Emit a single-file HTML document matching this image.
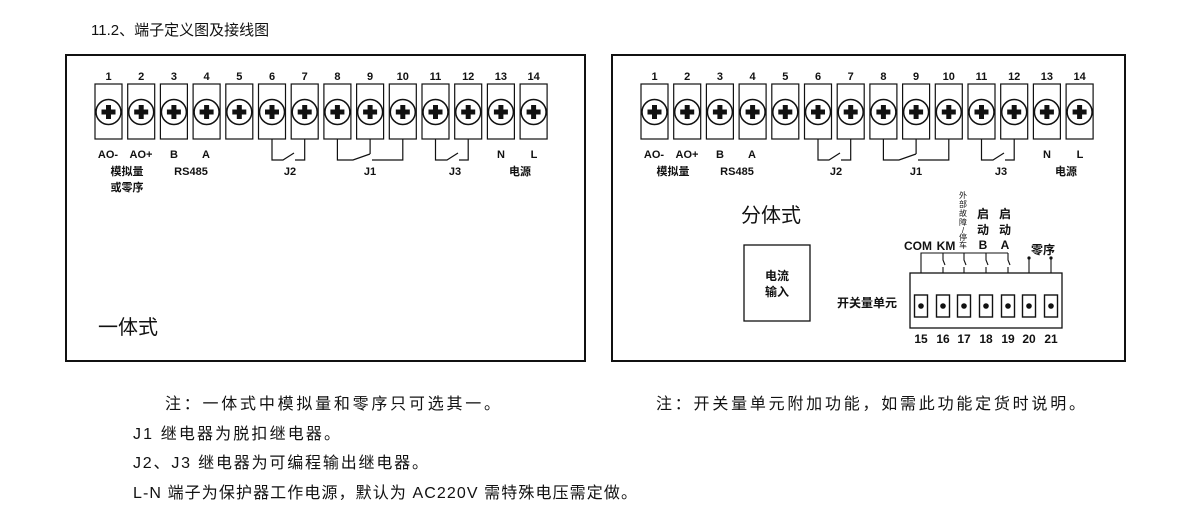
<!DOCTYPE html>
<html><head><meta charset="utf-8"><style>
html,body{margin:0;padding:0;background:#fff;width:1200px;height:514px;overflow:hidden}
svg text{font-family:"Liberation Sans","Noto Sans CJK SC",sans-serif;fill:#111}
</style></head><body>
<svg width="1200" height="514" viewBox="0 0 1200 514" xmlns="http://www.w3.org/2000/svg">
<defs>
<g id="t">
<rect x="-13.5" y="0" width="27" height="55" fill="#fff" stroke="#111" stroke-width="1.2"/>
<circle cx="0" cy="28" r="12.5" fill="#fff" stroke="#111" stroke-width="1.5"/>
<rect x="-7" y="25.5" width="14" height="5" fill="#111"/>
<rect x="-2.5" y="21" width="5" height="14" fill="#111"/>
</g>
<g id="s">
<rect x="-6.5" y="-11" width="13" height="22" fill="#fff" stroke="#111" stroke-width="1.4"/>
<circle cx="0" cy="0" r="2.8" fill="#111"/>
</g>
</defs>
<text x="91" y="35" font-size="15">11.2、端子定义图及接线图</text>

<!-- Left panel -->
<rect x="66" y="55" width="519" height="306" fill="none" stroke="#111" stroke-width="2"/>
<g transform="translate(108.5,84)">
<use href="#t" x="0"/><use href="#t" x="32.7"/><use href="#t" x="65.4"/><use href="#t" x="98.1"/><use href="#t" x="130.8"/><use href="#t" x="163.5"/><use href="#t" x="196.2"/><use href="#t" x="228.9"/><use href="#t" x="261.6"/><use href="#t" x="294.3"/><use href="#t" x="327"/><use href="#t" x="359.7"/><use href="#t" x="392.4"/><use href="#t" x="425.1"/>
</g>
<g font-size="11" font-weight="bold" text-anchor="middle">
<text x="108.5" y="80">1</text><text x="141.2" y="80">2</text><text x="173.9" y="80">3</text><text x="206.6" y="80">4</text><text x="239.3" y="80">5</text><text x="272" y="80">6</text><text x="304.7" y="80">7</text><text x="337.4" y="80">8</text><text x="370.1" y="80">9</text><text x="402.8" y="80">10</text><text x="435.5" y="80">11</text><text x="468.2" y="80">12</text><text x="500.9" y="80">13</text><text x="533.6" y="80">14</text>
<text x="108" y="158">AO-</text><text x="141" y="158">AO+</text><text x="174" y="158">B</text><text x="206" y="158">A</text><text x="501" y="158">N</text><text x="534" y="158">L</text>
<text x="127" y="175">模拟量</text><text x="127" y="191">或零序</text><text x="191" y="175">RS485</text>
<text x="290" y="175">J2</text><text x="370" y="175">J1</text><text x="455" y="175">J3</text><text x="520" y="175">电源</text>
</g>
<g fill="none" stroke="#111" stroke-width="1.2">
<path d="M272 139V160H283L294 153M295 160H304.7V139"/>
<path d="M337.4 139V160H353L370 154M370.1 139V154M372 160H402.8V139"/>
<path d="M435.5 139V160H447L458 153M459 160H468.2V139"/>
</g>
<text x="98" y="334" font-size="20">一体式</text>

<!-- Right panel -->
<rect x="612" y="55" width="513" height="306" fill="none" stroke="#111" stroke-width="2"/>
<g transform="translate(654.5,84)">
<use href="#t" x="0"/><use href="#t" x="32.7"/><use href="#t" x="65.4"/><use href="#t" x="98.1"/><use href="#t" x="130.8"/><use href="#t" x="163.5"/><use href="#t" x="196.2"/><use href="#t" x="228.9"/><use href="#t" x="261.6"/><use href="#t" x="294.3"/><use href="#t" x="327"/><use href="#t" x="359.7"/><use href="#t" x="392.4"/><use href="#t" x="425.1"/>
</g>
<g font-size="11" font-weight="bold" text-anchor="middle">
<text x="654.5" y="80">1</text><text x="687.2" y="80">2</text><text x="719.9" y="80">3</text><text x="752.6" y="80">4</text><text x="785.3" y="80">5</text><text x="818" y="80">6</text><text x="850.7" y="80">7</text><text x="883.4" y="80">8</text><text x="916.1" y="80">9</text><text x="948.8" y="80">10</text><text x="981.5" y="80">11</text><text x="1014.2" y="80">12</text><text x="1046.9" y="80">13</text><text x="1079.6" y="80">14</text>
<text x="654" y="158">AO-</text><text x="687" y="158">AO+</text><text x="720" y="158">B</text><text x="752" y="158">A</text><text x="1047" y="158">N</text><text x="1080" y="158">L</text>
<text x="673" y="175">模拟量</text><text x="737" y="175">RS485</text>
<text x="836" y="175">J2</text><text x="916" y="175">J1</text><text x="1001" y="175">J3</text><text x="1066" y="175">电源</text>
</g>
<g fill="none" stroke="#111" stroke-width="1.2">
<path d="M818 139V160H829L840 153M841 160H850.7V139"/>
<path d="M883.4 139V160H899L916 154M916.1 139V154M918 160H948.8V139"/>
<path d="M981.5 139V160H993L1004 153M1005 160H1014.2V139"/>
</g>
<text x="741" y="222" font-size="20">分体式</text>

<rect x="744" y="245" width="66" height="76" fill="none" stroke="#111" stroke-width="1.3"/>
<g font-size="12" font-weight="bold" text-anchor="middle">
<text x="777" y="280">电流</text><text x="777" y="296">输入</text>
<text x="867" y="307">开关量单元</text>
<text x="918" y="250">COM</text><text x="946" y="250">KM</text>
<text x="983" y="218">启</text><text x="983" y="234">动</text><text x="983" y="249">B</text>
<text x="1005" y="218">启</text><text x="1005" y="234">动</text><text x="1005" y="249">A</text>
<text x="1043" y="254">零序</text>
<text x="921" y="343">15</text><text x="943" y="343">16</text><text x="964" y="343">17</text><text x="986" y="343">18</text><text x="1008" y="343">19</text><text x="1029" y="343">20</text><text x="1051" y="343">21</text>
</g>
<g font-size="8" text-anchor="middle">
<text x="963" y="198">外</text><text x="963" y="207">部</text><text x="963" y="216">故</text><text x="963" y="225">障</text><text x="963" y="233">/</text><text x="963" y="240">停</text><text x="963" y="248">车</text>
</g>
<rect x="910" y="273" width="152" height="55" fill="#fff" stroke="#111" stroke-width="1.3"/>
<g transform="translate(0,306)">
<use href="#s" x="921"/><use href="#s" x="943"/><use href="#s" x="964"/><use href="#s" x="986"/><use href="#s" x="1008"/><use href="#s" x="1029"/><use href="#s" x="1051"/>
</g>
<g fill="none" stroke="#111" stroke-width="1.1">
<path d="M921 273V253H1008"/>
<path d="M943 253V260L945 265M943 267V273"/>
<path d="M964 253V260L966 265M964 267V273"/>
<path d="M986 253V260L988 265M986 267V273"/>
<path d="M1008 253V260L1010 265M1008 267V273"/>
<path d="M1029 273V258M1051 273V258"/>
</g>
<circle cx="1029" cy="258" r="1.6" fill="#111"/><circle cx="1051" cy="258" r="1.6" fill="#111"/>

<!-- Notes -->
<g font-size="16">
<text x="165" y="409" textLength="335">注：一体式中模拟量和零序只可选其一。</text>
<text x="656" y="409" textLength="429">注：开关量单元附加功能，如需此功能定货时说明。</text>
<text x="133" y="439" textLength="207">J1 继电器为脱扣继电器。</text>
<text x="133" y="468" textLength="295">J2、J3 继电器为可编程输出继电器。</text>
<text x="133" y="498" textLength="504">L-N 端子为保护器工作电源，默认为 AC220V 需特殊电压需定做。</text>
</g>
</svg>
</body></html>
